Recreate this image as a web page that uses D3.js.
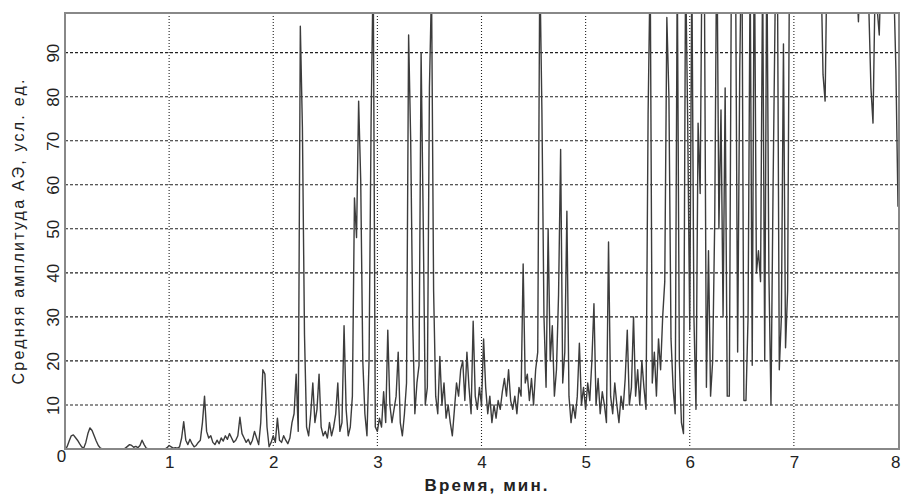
<!DOCTYPE html>
<html>
<head>
<meta charset="utf-8">
<script src="https://cdn.jsdelivr.net/npm/d3@7"></script>
<style>
  body { margin: 0; background: #fff; }
  svg { display: block; font-family: "Liberation Sans", Arial, sans-serif; }
</style>
</head>
<body>
<svg id="chart" width="901" height="494"></svg>
<script>
// sampling: one value every 0.02 min, from 0 to 8 min
const step = 0.02;
// amplitude, one row per half minute (values over 99 go off the top)
const amplitude = [
  0, 0.5, 1.8, 3.0, 3.2, 2.6, 2.0, 1.2, 0.5, 0.2, 1.5, 3.5, 4.8, 4.2, 3.0, 1.8, 0.8, 0.2, 0, 0, 0, 0, 0, 0, 0,
  0, 0, 0, 0, 0.2, 0.6, 1.0, 0.8, 0.4, 0.6, 0.3, 0.8, 2.0, 1.0, 0.2, 0, 0, 0, 0, 0, 0, 0, 0, 0, 0.3,
  0.8, 0.5, 0.2, 0.3, 0.2, 0.5, 2.5, 6.2, 2.0, 1.0, 2.2, 1.2, 0.5, 0.8, 1.5, 2.0, 6.0, 12, 4.0, 2.5, 3.0, 1.5, 1.0, 2.0, 1.2,
  2.5, 1.8, 3.0, 2.2, 3.5, 2.5, 1.5, 2.0, 3.0, 7.2, 3.5, 2.5, 1.5, 2.2, 1.0, 2.0, 4.0, 2.5, 1.0, 6.0, 18, 17, 5.0, 0.5, 1.5,
  3, 1.5, 7, 2, 1.5, 3, 2, 1.2, 2.5, 6, 8, 17, 4, 96, 73, 26, 5, 3, 8, 15, 6, 9, 17, 5, 3,
  4, 2.5, 6, 3, 5, 8, 15, 4, 6, 28, 9, 3, 5, 12, 57, 48, 79, 61, 20, 8, 3, 20, 75, 110, 5,
  4, 7, 5, 13, 6, 27, 10, 6, 9, 12, 22, 6, 3, 8, 15, 94, 70, 28, 8, 15, 19, 90, 52, 10, 14,
  82, 105, 36, 12, 8, 21, 10, 15, 7, 10, 6, 3, 9, 15, 12, 18, 20, 11, 22, 14, 8, 29, 12, 9, 14,
  10, 25, 14, 8, 12, 6, 10, 7, 11, 9, 13, 16, 12, 18, 11, 9, 12, 8, 14, 12, 42, 15, 17, 11, 16,
  10, 18, 22, 110, 77, 30, 14, 50, 20, 28, 12, 18, 35, 68, 15, 22, 54, 12, 6, 10, 7, 12, 24, 10, 14,
  9, 15, 11, 20, 33, 10, 16, 8, 13, 10, 6, 47, 12, 8, 15, 10, 6, 12, 9, 16, 27, 10, 14, 30, 12,
  18, 10, 20, 14, 9, 76, 110, 15, 22, 12, 25, 18, 30, 38, 98, 80, 25, 14, 8, 110, 20, 6, 3.5, 110, 75,
  27, 110, 30, 9, 74, 58, 120, 110, 14, 45, 12, 20, 52, 120, 50, 77, 30, 82, 12, 12, 110, 120, 110, 22, 86,
  120, 11, 11, 30, 110, 19, 120, 40, 45, 38, 110, 20, 115, 40, 10, 59, 100, 120, 18, 30, 92, 23, 36, 120, 110,
  120, 115, 125, 118, 122, 120, 116, 124, 119, 121, 117, 123, 112, 110, 85, 79, 115, 121, 117, 124, 119, 122, 116, 120, 123,
  118, 122, 117, 121, 115, 108, 97, 112, 120, 116, 110, 100, 82, 74, 105, 100, 94, 112, 120, 117, 122, 116, 112, 105, 86,
  55
];
const xTicks = [0, 1, 2, 3, 4, 5, 6, 7, 8];
const yTicks = [10, 20, 30, 40, 50, 60, 70, 80, 90];
const xTitle = "Время, мин.";
const yTitle = "Средняя амплитуда АЭ, усл. ед.";

const svg = d3.select("#chart");
const pl = 65, pr = 899, pt = 13, pb = 449;

const x = d3.scaleLinear().domain([0, 8]).range([pl, 898]);
const y = d3.scaleLinear().domain([0, 99]).range([pb, pt]);

svg.append("defs").append("clipPath").attr("id", "plot")
  .append("rect").attr("x", pl).attr("y", pt)
  .attr("width", pr - pl).attr("height", pb - pt);

// grid
svg.append("g").selectAll("line").data(yTicks).enter().append("line")
  .attr("x1", pl).attr("x2", pr)
  .attr("y1", d => y(d)).attr("y2", d => y(d))
  .attr("stroke", "#222").attr("stroke-width", 1.1).attr("stroke-dasharray", "3,2");
svg.append("g").selectAll("line").data(xTicks.filter(d => d > 0 && d < 8)).enter().append("line")
  .attr("x1", d => x(d)).attr("x2", d => x(d))
  .attr("y1", pt).attr("y2", pb)
  .attr("stroke", "#222").attr("stroke-width", 1.1).attr("stroke-dasharray", "1,2");

// signal
const line = d3.line().x((d, i) => x(i * step)).y(d => y(d));
svg.append("path").datum(amplitude)
  .attr("clip-path", "url(#plot)")
  .attr("fill", "none").attr("stroke", "#3c3c3c").attr("stroke-width", 1.4)
  .attr("stroke-linejoin", "round")
  .attr("d", line);

// frame
svg.append("rect").attr("x", pl).attr("y", pt)
  .attr("width", pr - pl).attr("height", pb - pt)
  .attr("fill", "none").attr("stroke", "#888").attr("stroke-width", 2);

// axes
const xAxis = svg.append("g").attr("transform", `translate(0,${pb})`)
  .call(d3.axisBottom(x).tickValues(xTicks).tickSize(0).tickFormat(d3.format("d")));
xAxis.select(".domain").remove();
xAxis.selectAll("text").attr("y", 13).attr("dy", "0.35em")
  .attr("font-size", 17).attr("fill", "#222");
xAxis.selectAll("text").filter(d => d === 0).attr("x", -4).attr("y", 7);
xAxis.selectAll("text").filter(d => d === 8).attr("text-anchor", "end").attr("x", 2);

const yAxis = svg.append("g").attr("transform", `translate(${pl},0)`)
  .call(d3.axisLeft(y).tickValues(yTicks).tickSize(0));
yAxis.select(".domain").remove();
yAxis.selectAll("text").attr("x", 0).attr("y", 0).attr("dy", "0.35em")
  .attr("text-anchor", "middle").attr("transform", "translate(-12,0) rotate(-90)")
  .attr("font-size", 17).attr("fill", "#222");

// titles
svg.append("text").attr("x", 486).attr("y", 491).attr("text-anchor", "middle")
  .attr("font-size", 17).attr("font-weight", "bold").attr("fill", "#222")
  .attr("textLength", 123).attr("lengthAdjust", "spacing").text(xTitle);
svg.append("text").attr("transform", "translate(18,232) rotate(-90)")
  .attr("text-anchor", "middle").attr("dy", "0.35em")
  .attr("font-size", 16).attr("fill", "#222")
  .attr("textLength", 305).attr("lengthAdjust", "spacing").text(yTitle);
</script>
</body>
</html>
